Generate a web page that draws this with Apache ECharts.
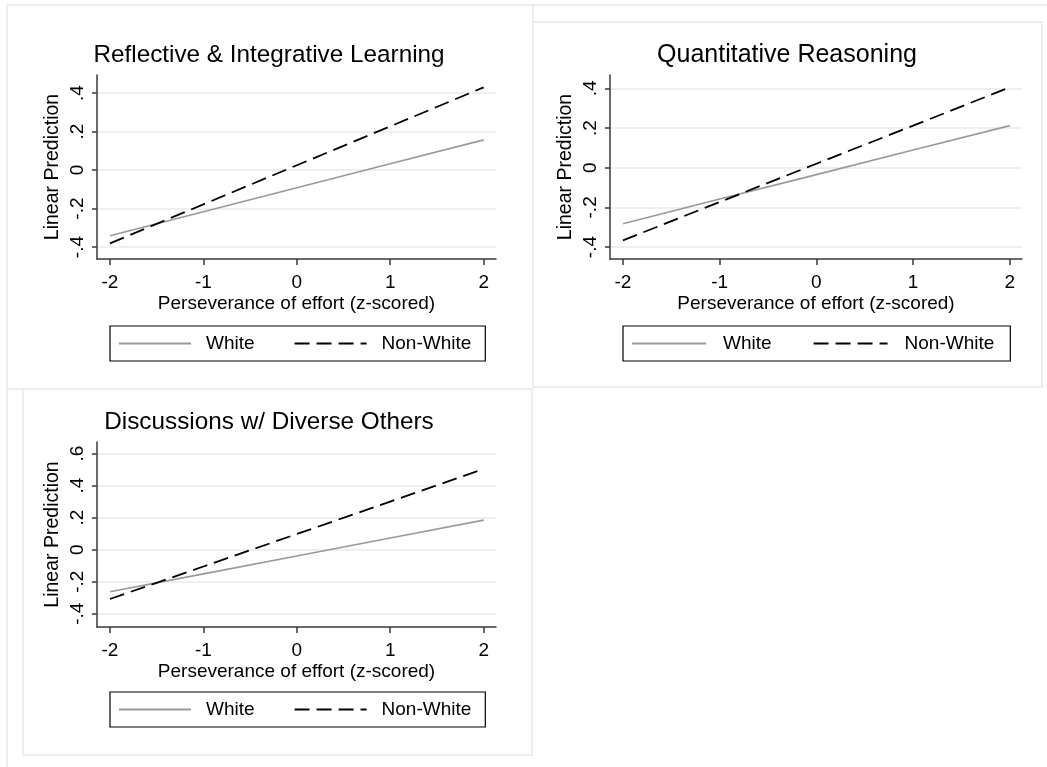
<!DOCTYPE html>
<html>
<head>
<meta charset="utf-8">
<title>Linear Prediction by Perseverance of effort</title>
<script src="https://cdn.jsdelivr.net/npm/echarts@6/dist/echarts.min.js"></script>
<style>
  html, body { margin: 0; padding: 0; background: #ffffff; }
  #chart { width: 1047px; height: 767px; }
</style>
</head>
<body>
<div id="chart"></div>
<script>
// Predicted outcome at each level of perseverance (z-scored)
const xValues = [-2, -1, 0, 1, 2];
const xTicks = [-2, -1, 0, 1, 2];

const panelTitles = [
  'Reflective & Integrative Learning',
  'Quantitative Reasoning',
  'Discussions w/ Diverse Others'
];
const seriesNames = ['White', 'Non-White'];

const reflectiveWhite    = [-0.341, -0.217, -0.092, 0.033, 0.157];
const reflectiveNonWhite = [-0.381, -0.178, 0.025, 0.227, 0.430];
const quantWhite         = [-0.282, -0.158, -0.035, 0.089, 0.212];
const quantNonWhite      = [-0.366, -0.173, 0.020, 0.212, 0.405];
const discussWhite       = [-0.263, -0.151, -0.039, 0.073, 0.185];
const discussNonWhite    = [-0.308, -0.105, 0.098, 0.301, 0.504];

const yTicksReflective = [-0.4, -0.2, 0, 0.2, 0.4];
const yTicksQuant      = [-0.4, -0.2, 0, 0.2, 0.4];
const yTicksDiscuss    = [-0.4, -0.2, 0, 0.2, 0.4, 0.6];

const xTitle = 'Perseverance of effort (z-scored)';
const yTitle = 'Linear Prediction';

const FONT = '"Liberation Sans", Arial, sans-serif';

// Stata-style tick text: ".4", "-.2", "0"
function stataNum(v) {
  const r = Math.round(v * 1000) / 1000;
  if (r === 0) return '0';
  const s = String(Math.abs(r)).replace(/^0/, '');
  return (r < 0 ? '-' : '') + s;
}

// Layout of each panel: plot box and axis extents
const panels = [
  { grid: { left: 97, top: 75, width: 399, height: 184 },
    x: [-2.139, 2.132], y: [-0.462, 0.494], yTicks: yTicksReflective,
    white: reflectiveWhite, nonWhite: reflectiveNonWhite,
    titleX: 269, titleY: 43, titleSize: 24.3,
    legend: { left: 110, top: 326, iw: 72, gap: 39, pad: [7, 14, 7, 8], tp: 10 } },
  { grid: { left: 610, top: 75, width: 412, height: 184 },
    x: [-2.134, 2.126], y: [-0.460, 0.467], yTicks: yTicksQuant,
    white: quantWhite, nonWhite: quantNonWhite,
    titleX: 787, titleY: 43, titleSize: 25,
    legend: { left: 623, top: 326, iw: 74, gap: 41, pad: [7, 16, 7, 8], tp: 12 } },
  { grid: { left: 97, top: 442, width: 399, height: 185 },
    x: [-2.139, 2.132], y: [-0.483, 0.673], yTicks: yTicksDiscuss,
    white: discussWhite, nonWhite: discussNonWhite,
    titleX: 269, titleY: 410, titleSize: 24.3,
    legend: { left: 110, top: 692, iw: 72, gap: 39, pad: [7, 14, 7, 8], tp: 10 } }
];

const AXIS_COLOR = '#3a3a3a';
const GRID_COLOR = '#eaeaea';
const WHITE_COLOR = '#999999';
const NONWHITE_COLOR = '#000000';

const option = {
  backgroundColor: '#ffffff',
  animation: false,
  textStyle: { fontFamily: FONT },
  title: panels.map((p, i) => ({
    text: panelTitles[i],
    left: p.titleX,
    top: p.titleY,
    textAlign: 'center',
    padding: 0,
    textStyle: { fontFamily: FONT, fontSize: p.titleSize, fontWeight: 'normal', color: '#000' }
  })),
  grid: panels.map(p => Object.assign({ containLabel: false }, p.grid)),
  xAxis: panels.map((p, i) => ({
    type: 'value',
    gridIndex: i,
    min: p.x[0],
    max: p.x[1],
    name: xTitle,
    nameLocation: 'middle',
    nameGap: 35,
    nameTextStyle: { fontFamily: FONT, fontSize: 19, color: '#000' },
    axisLine: { show: true, onZero: false, lineStyle: { color: AXIS_COLOR, width: 1.5 } },
    axisTick: { show: true, length: 6, customValues: xTicks, lineStyle: { color: AXIS_COLOR, width: 1.5 } },
    axisLabel: { customValues: xTicks, margin: 14, fontFamily: FONT, fontSize: 19, color: '#000',
                 formatter: v => stataNum(v) },
    splitLine: { show: false }
  })),
  yAxis: panels.map((p, i) => ({
    type: 'value',
    gridIndex: i,
    min: p.y[0],
    max: p.y[1],
    name: yTitle,
    nameLocation: 'middle',
    nameGap: 34,
    nameTextStyle: { fontFamily: FONT, fontSize: 19.5, color: '#000' },
    axisLine: { show: true, onZero: false, lineStyle: { color: AXIS_COLOR, width: 1.5 } },
    axisTick: { show: true, length: 5, customValues: p.yTicks, lineStyle: { color: AXIS_COLOR, width: 1.5 } },
    axisLabel: { customValues: p.yTicks, rotate: 90, margin: 10, fontFamily: FONT, fontSize: 19, color: '#000',
                 formatter: v => stataNum(v) },
    splitLine: { show: true, lineStyle: { color: GRID_COLOR, width: 1.5 } }
  })),
  legend: panels.map(p => ({
    data: seriesNames,
    left: p.legend.left,
    top: p.legend.top,
    orient: 'horizontal',
    itemWidth: p.legend.iw,
    itemHeight: 12,
    itemGap: p.legend.gap,
    padding: p.legend.pad,
    borderColor: '#000',
    borderWidth: 1.2,
    borderRadius: 0,
    backgroundColor: '#fff',
    selectedMode: false,
    itemStyle: { opacity: 0 },
    textStyle: { fontFamily: FONT, fontSize: 19, color: '#000', lineHeight: 21,
                 padding: [0, 0, 0, p.legend.tp] }
  })),
  series: panels.flatMap((p, i) => [
    {
      name: seriesNames[0],
      type: 'line',
      xAxisIndex: i,
      yAxisIndex: i,
      data: xValues.map((x, k) => [x, p.white[k]]),
      symbol: 'none',
      silent: true,
      lineStyle: { color: WHITE_COLOR, width: 1.6, type: 'solid' },
      itemStyle: { color: WHITE_COLOR }
    },
    {
      name: seriesNames[1],
      type: 'line',
      xAxisIndex: i,
      yAxisIndex: i,
      data: xValues.map((x, k) => [x, p.nonWhite[k]]),
      symbol: 'none',
      silent: true,
      lineStyle: { color: NONWHITE_COLOR, width: 1.8, type: [15, 7] },
      itemStyle: { color: NONWHITE_COLOR }
    }
  ]),
  // faint frames around the combined graph and its panels
  graphic: [
    { type: 'polyline', silent: true, z: -1,
      shape: { points: [[7, 767], [7, 5], [1047, 5]] },
      style: { stroke: '#e9f0f2', lineWidth: 2, fill: null } },
    { type: 'polyline', silent: true, z: -1,
      shape: { points: [[533, 5], [533, 389], [7, 389]] },
      style: { stroke: '#e9f0f2', lineWidth: 2, fill: null } },
    { type: 'rect', silent: true, z: -1,
      shape: { x: 533, y: 22, width: 509, height: 365 },
      style: { stroke: '#e9f0f2', lineWidth: 2, fill: null } },
    { type: 'rect', silent: true, z: -1,
      shape: { x: 23, y: 389, width: 509, height: 366 },
      style: { stroke: '#e9f0f2', lineWidth: 2, fill: null } }
  ]
};

const chart = echarts.init(document.getElementById('chart'), null, { renderer: 'canvas' });
chart.setOption(option);
</script>
</body>
</html>
